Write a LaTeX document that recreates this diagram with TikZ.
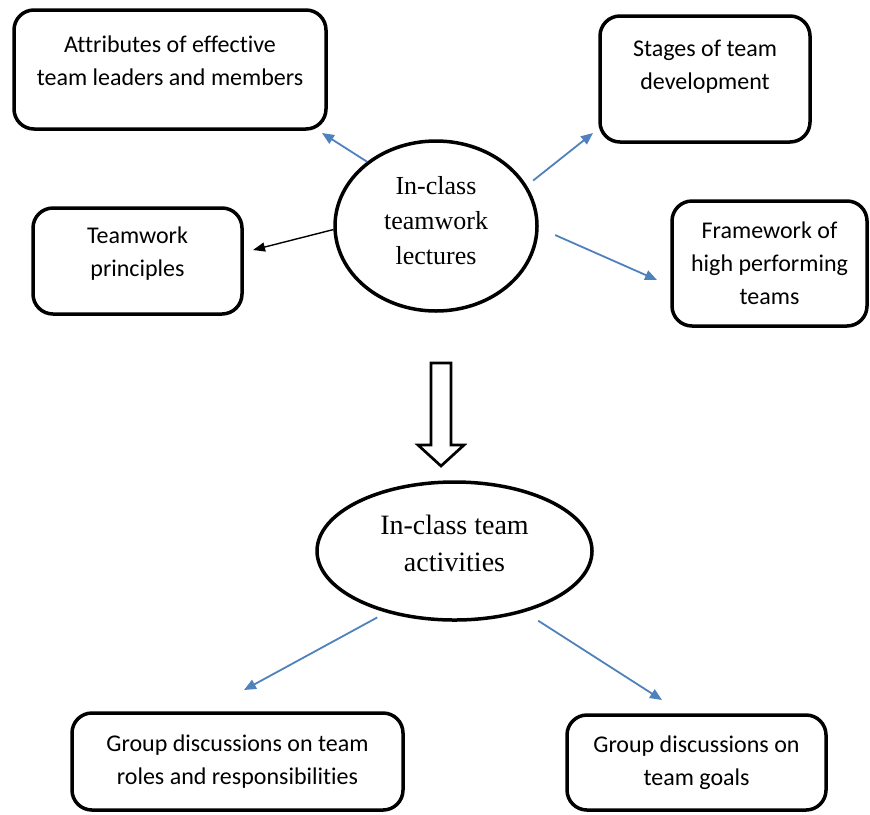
\documentclass[tikz,border=0pt]{standalone}
\usepackage{fontspec}
\setmainfont[Ligatures={NoCommon}]{Carlito}
\newfontfamily\timesfont{Liberation Serif}
\usetikzlibrary{arrows.meta,shapes.geometric}

\definecolor{arrowblue}{RGB}{79,129,189}

\tikzset{
  topic/.style={draw, line width=1.75pt, rounded corners=10pt, align=center, inner sep=0pt,
    font=\fontsize{12}{16.5}\selectfont},
  hub/.style={draw, ellipse, line width=1.75pt, align=center, inner sep=0pt},
  bluearrow/.style={color=arrowblue, line width=0.9pt, -{Triangle[length=6pt,width=5pt]}},
  blackarrow/.style={color=black, line width=0.7pt, -{Triangle[length=6pt,width=4.5pt]}}
}

\begin{document}
\begin{tikzpicture}[x=0.5pt, y=-0.5pt]
\useasboundingbox (0,0) rectangle (870,814);

% lectures and what they cover
\node[hub, minimum width=101pt, minimum height=85pt, font=\timesfont\fontsize{13}{17.5}\selectfont]
  (lec) at (436,226) {In-class\\teamwork\\lectures\\[-12pt]\mbox{}};

\node[topic, minimum width=156pt, minimum height=59.5pt] (attr) at (170,69.5)
  {Attributes of effective\\team leaders and members\\[-8pt]\mbox{}};
\node[topic, minimum width=105pt, minimum height=63pt] (stages) at (705,79)
  {Stages of team\\development\\[-2.6pt]\mbox{}};
\node[topic, minimum width=104.5pt, minimum height=53pt] (tp) at (137.5,261)
  {Teamwork\\principles\\[-7.6pt]\mbox{}};
\node[topic, minimum width=97.5pt, minimum height=62.5pt] (frame) at (769.5,263.5)
  {Framework of\\high performing\\teams};

\draw[bluearrow] (lec.137) -- ([shift={(-5.75,2.25)}]attr.south east);
\draw[blackarrow] (lec.182) -- ([shift={(9.25,-11)}]tp.east);
\draw[bluearrow, shorten <=4pt] (lec.24) -- ([shift={(-5.25,-10.75)}]stages.south west);
\draw[bluearrow, shorten <=9pt] (lec.-1) -- ([shift={(-13.25,16.5)}]frame.west);

% hollow arrow down
\draw[line width=1.35pt, line join=miter] (431,363) -- (451,363) -- (451,445) -- (464,445)
  -- (441,466) -- (418,445) -- (431,445) -- cycle;

% activities
\node[hub, minimum width=137.5pt, minimum height=69pt, font=\timesfont\fontsize{14}{18.5}\selectfont]
  (act) at (454.5,551) {In-class team\\activities\\[-11pt]\mbox{}};

\node[topic, minimum width=165.5pt, minimum height=48.5pt] (roles) at (237.5,761.5)
  {Group discussions on team\\roles and responsibilities};
\node[topic, minimum width=129.5pt, minimum height=47.5pt] (goals) at (696.5,762.5)
  {Group discussions on\\team goals};

\draw[bluearrow, shorten <=5pt] (act.222) -- ([shift={(6.5,-21.25)}]roles.north);
\draw[bluearrow, shorten <=8pt] (act.-41) -- ([shift={(-34.5,-13.25)}]goals.north);

\end{tikzpicture}
\end{document}
